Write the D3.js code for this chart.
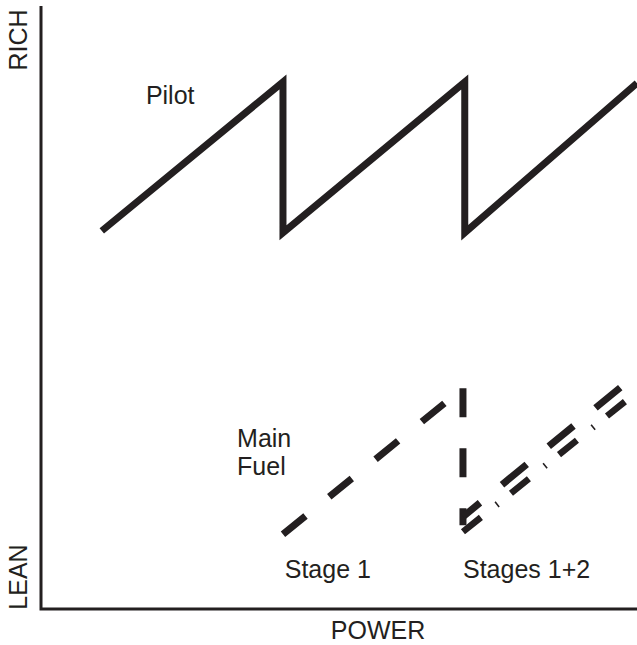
<!DOCTYPE html>
<html>
<head>
<meta charset="utf-8">
<script src="https://cdn.jsdelivr.net/npm/d3@7"></script>
<style>
  html, body { margin: 0; padding: 0; background: #fff; }
  svg { display: block; }
  text { font-family: "Liberation Sans", Arial, Helvetica, sans-serif; fill: #231f20; }
</style>
</head>
<body>
<svg id="chart" width="637" height="645"></svg>
<script>
// ---- Data (power 0–100, mixture strength 0 = lean … 100 = rich) ----
const pilotPower   = [10.2, 40.6, 40.6, 71.1, 71.1, 100];
const pilotMixture = [62.7, 87.4, 62.4, 87.4, 62.4, 87.2];

const stage1Power   = [40.6, 70.8];
const stage1Mixture = [12.4, 36.6];

const stagingPower   = [70.8, 70.8];
const stagingMixture = [36.6, 13.9];

const stages12UpperPower   = [70.8, 100];
const stages12UpperMixture = [15.3, 39.0];

const stages12LowerPower   = [70.8, 100];
const stages12LowerMixture = [12.8, 36.0];

const labelTexts = ["Pilot", "Main", "Fuel", "Stage 1", "Stages 1+2"];
const labelPower = [17.6, 32.9, 32.9, 40.9, 70.8];
const labelMix   = [83.7, 26.9, 22.2, 5.1, 5.1];

const axisTitles = { x: "POWER", yLow: "LEAN", yHigh: "RICH" };

// ---- Layout ----
const ink = "#231f20";
const svg = d3.select("#chart");
const x = d3.scaleLinear().domain([0, 100]).range([41, 637]);
const y = d3.scaleLinear().domain([0, 100]).range([609, 6]);

const zip = (xs, ys) => xs.map((v, i) => [v, ys[i]]);
const line = d3.line().x(d => x(d[0])).y(d => y(d[1]));

// Axes (plain lines, no ticks)
svg.append("path")
  .attr("d", line([[0, 100], [0, 0], [100, 0]]))
  .attr("fill", "none").attr("stroke", ink).attr("stroke-width", 3)
  .attr("stroke-linejoin", "miter");

// Pilot sawtooth
svg.append("path")
  .attr("d", line(zip(pilotPower, pilotMixture)))
  .attr("fill", "none").attr("stroke", ink).attr("stroke-width", 7)
  .attr("stroke-linejoin", "miter").attr("stroke-miterlimit", 10);

// Main fuel stage 1 (dashed)
svg.append("path")
  .attr("d", line(zip(stage1Power, stage1Mixture)))
  .attr("fill", "none").attr("stroke", ink).attr("stroke-width", 7)
  .attr("stroke-dasharray", "29,30.6");

// Staging drop (dashed vertical)
svg.append("path")
  .attr("d", line(zip(stagingPower, stagingMixture)))
  .attr("fill", "none").attr("stroke", ink).attr("stroke-width", 7)
  .attr("stroke-dasharray", "29,31");

// Stages 1+2 – upper dashed line
svg.append("path")
  .attr("d", line(zip(stages12UpperPower, stages12UpperMixture)))
  .attr("fill", "none").attr("stroke", ink).attr("stroke-width", 7)
  .attr("stroke-dasharray", "32,28.5").attr("stroke-dashoffset", 10);

// Stages 1+2 – lower dash-dot line
svg.append("path")
  .attr("d", line(zip(stages12LowerPower, stages12LowerMixture)))
  .attr("fill", "none").attr("stroke", ink).attr("stroke-width", 6.5)
  .attr("stroke-dasharray", "23,20,1.6,17");

// Labels
svg.selectAll("text.lbl")
  .data(labelTexts)
  .join("text")
  .attr("class", "lbl")
  .attr("x", (d, i) => x(labelPower[i]))
  .attr("y", (d, i) => y(labelMix[i]))
  .attr("font-size", 25)
  .text(d => d);

// Axis titles
svg.append("text")
  .attr("x", 378).attr("y", 639)
  .attr("text-anchor", "middle").attr("font-size", 25)
  .text(axisTitles.x);

svg.append("text")
  .attr("transform", "translate(27,577) rotate(-90)")
  .attr("text-anchor", "middle").attr("font-size", 25)
  .text(axisTitles.yLow);

svg.append("text")
  .attr("transform", "translate(27,40) rotate(-90)")
  .attr("text-anchor", "middle").attr("font-size", 25)
  .text(axisTitles.yHigh);
</script>
</body>
</html>
